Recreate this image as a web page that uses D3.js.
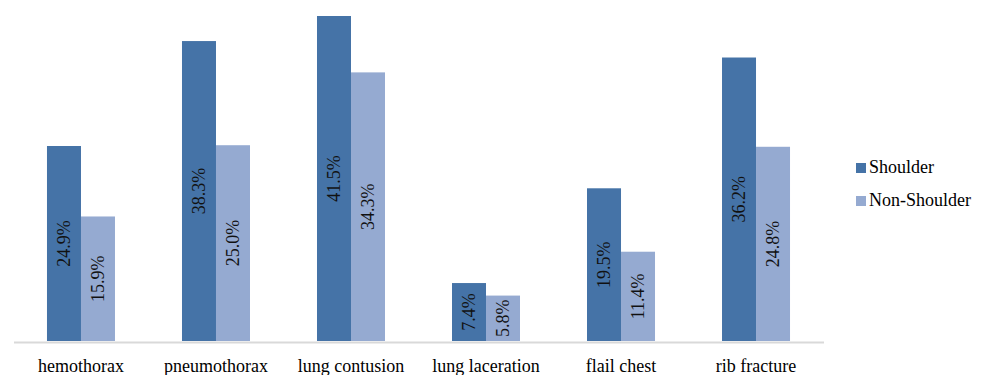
<!DOCTYPE html>
<html><head><meta charset="utf-8">
<script src="https://cdn.jsdelivr.net/npm/d3@7"></script>
<style>body{margin:0;background:#fff}svg{display:block}text{font-family:"Liberation Serif","Times New Roman",serif}</style>
</head><body><svg id="c" width="988" height="375"></svg>
<script>
const categories = ["hemothorax","pneumothorax","lung contusion","lung laceration","flail chest","rib fracture"];
const seriesNames = ["Shoulder","Non-Shoulder"];
const shoulder = [24.9,38.3,41.5,7.4,19.5,36.2];
const nonShoulder = [15.9,25.0,34.3,5.8,11.4,24.8];
const colors = ["#4573a7","#95aad1"];

const svg = d3.select("#c");
const baseY = 341, topY = 16;
const x0 = d3.scaleBand().domain(categories).range([13.5, 823.5]).paddingInner(0.4963).paddingOuter(0.248);
const x1 = d3.scaleBand().domain(seriesNames).range([0, x0.bandwidth()]);
const y = d3.scaleLinear().domain([0, d3.max(shoulder.concat(nonShoulder))]).range([baseY, topY]);
const data = [shoulder, nonShoulder];

const g = svg.append("g");
categories.forEach((c, i) => {
  seriesNames.forEach((s, j) => {
    const v = data[j][i];
    const bx = x0(c) + x1(s), bw = x1.bandwidth();
    g.append("rect").attr("x", bx).attr("y", y(v)).attr("width", bw).attr("height", baseY - y(v)).attr("fill", colors[j]);
    const cx = bx + bw / 2, cy = (y(v) + baseY) / 2;
    g.append("text").attr("transform", `translate(${cx},${cy}) rotate(-90)`)
      .attr("text-anchor", "middle").attr("dy", "0.35em").attr("font-size", 18).attr("fill", "#111")
      .text(v.toFixed(1) + "%");
  });
});

// axis
const axis = d3.axisBottom(x0).tickSize(0).tickPadding(17);
const ax = svg.append("g").attr("transform", `translate(0,${baseY + 1})`).call(axis);
ax.select(".domain").attr("stroke", "#d9d9d9").attr("stroke-width", 2);
ax.selectAll("text").attr("font-size", 18).attr("fill", "#000").attr("font-family", "Liberation Serif, Times New Roman, serif");

// legend
const leg = svg.append("g").attr("transform", "translate(856,163)");
seriesNames.forEach((s, j) => {
  const lg = leg.append("g").attr("transform", `translate(0,${j * 33})`);
  lg.append("rect").attr("width", 10).attr("height", 10).attr("fill", colors[j]);
  lg.append("text").attr("x", 13).attr("y", 10).attr("font-size", 18).attr("fill", "#000").text(s);
});
</script></body></html>
